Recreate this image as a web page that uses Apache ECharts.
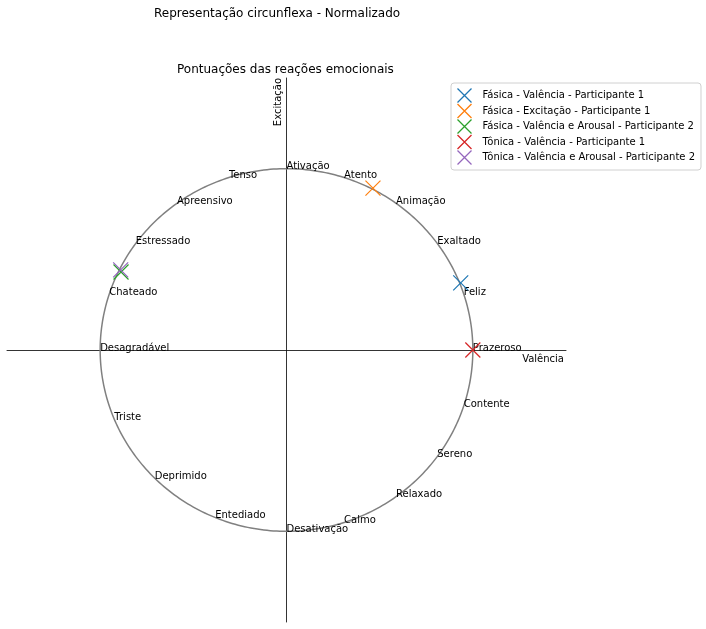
<!DOCTYPE html>
<html>
<head>
<meta charset="utf-8">
<script src="https://cdn.jsdelivr.net/npm/echarts@6/dist/echarts.min.js"></script>
<style>
  html, body { margin: 0; padding: 0; background: #fff; }
  #chart { width: 706px; height: 629px; }
</style>
</head>
<body>
<div id="chart"></div>
<script>
// ---- data ----
const labelNames = ['Prazeroso','Feliz','Exaltado','Animação','Atento','Ativação','Tenso','Apreensivo','Estressado','Chateado','Desagradável','Triste','Deprimido','Entediado','Desativação','Calmo','Relaxado','Sereno','Contente'];
const labelAngles = [0,18,36,54,72,90,108,126,144,162,180,202.5,225,247.5,270,288,306,324,342];
const circleRadius = 1;
const seriesNames = [
  'Fásica - Valência - Participante 1',
  'Fásica - Excitação - Participante 1',
  'Fásica - Valência e Arousal - Participante 2',
  'Tônica - Valência - Participante 1',
  'Tônica - Valência e Arousal - Participante 2'
];
const seriesX = [0.935, 0.464, -0.888, 1.0, -0.89];
const seriesY = [0.37, 0.893, 0.43, 0.0, 0.442];
const seriesColors = ['#1f77b4','#ff7f0e','#2ca02c','#d62728','#9467bd'];

const FONT = 'DejaVu Sans';
const CROSS = 'path://M0 0L10 10M10 0L0 10';
const chart = echarts.init(document.getElementById('chart'));

const labelData = labelNames.map((n, i) => {
  const a = labelAngles[i] * Math.PI / 180;
  return { value: [circleRadius * Math.cos(a), circleRadius * Math.sin(a)], name: n };
});

const markerSeries = seriesNames.map((n, i) => ({
  name: n,
  type: 'scatter',
  symbol: CROSS,
  symbolSize: 15,
  data: [[seriesX[i], seriesY[i]]],
  itemStyle: { color: 'none', borderColor: seriesColors[i], borderWidth: 1.2, opacity: 1 },
  emphasis: { disabled: true },
  z: 5
}));

const legendData = seriesNames.map((n, i) => ({
  name: n,
  icon: CROSS,
  itemStyle: { color: 'none', borderColor: seriesColors[i], borderWidth: 1.3, opacity: 1 }
}));

const option = {
  animation: false,
  backgroundColor: '#fff',
  textStyle: { fontFamily: FONT },
  title: [
    { text: 'Representação circunflexa - Normalizado', left: 149, top: 3,
      textStyle: { fontFamily: FONT, fontSize: 12, fontWeight: 'normal', color: '#000' } },
    { text: 'Pontuações das reações emocionais', left: 172, top: 59,
      textStyle: { fontFamily: FONT, fontSize: 12, fontWeight: 'normal', color: '#000' } }
  ],
  legend: {
    orient: 'vertical',
    left: 451, top: 83,
    data: legendData,
    itemWidth: 20, itemHeight: 14, itemGap: -3.5,
    padding: [3, 6, 3, 4],
    borderColor: '#d0d0d0', borderWidth: 1, borderRadius: 3,
    textStyle: { fontFamily: FONT, fontSize: 10, color: '#000', padding: [0, 0, 0, 3] },
    selectedMode: false
  },
  grid: { left: 7, top: 78, width: 559, height: 544, containLabel: false },
  xAxis: {
    type: 'value', min: -1.5, max: 1.5,
    axisLine: { show: true, onZero: true, lineStyle: { color: '#000', width: 0.8 } },
    axisTick: { show: false }, axisLabel: { show: false }, splitLine: { show: false },
    name: 'Valência', nameLocation: 'end', nameGap: -2,
    nameTextStyle: { fontFamily: FONT, fontSize: 10, color: '#000', align: 'right', verticalAlign: 'top', padding: [4, 0, 0, 0] }
  },
  yAxis: {
    type: 'value', min: -1.5, max: 1.5,
    axisLine: { show: true, onZero: true, lineStyle: { color: '#000', width: 0.8 } },
    axisTick: { show: false }, axisLabel: { show: false }, splitLine: { show: false },
    name: 'Excitação', nameLocation: 'end', nameGap: 0, nameRotate: 90,
    nameTextStyle: { fontFamily: FONT, fontSize: 10, color: '#000', align: 'right', verticalAlign: 'bottom', padding: [0, 0, 3, 0] }
  },
  series: [
    {
      type: 'custom',
      silent: true,
      data: [[0, 0, circleRadius]],
      renderItem: function (params, api) {
        const cx = api.value(0), cy = api.value(1), r = api.value(2);
        const pts = [];
        for (let k = 0; k <= 360; k++) {
          const a = k * Math.PI / 180;
          pts.push(api.coord([cx + r * Math.cos(a), cy + r * Math.sin(a)]));
        }
        return { type: 'polyline', shape: { points: pts }, style: { stroke: '#808080', lineWidth: 1.5, fill: null } };
      },
      z: 2
    },
    {
      type: 'scatter',
      silent: true,
      symbolSize: 0,
      data: labelData,
      itemStyle: { opacity: 1 },
      label: {
        show: true, formatter: '{b}', position: [0, 3],
        align: 'left', verticalAlign: 'bottom', opacity: 1,
        fontFamily: FONT, fontSize: 10, color: '#000'
      },
      z: 3
    }
  ].concat(markerSeries)
};
chart.setOption(option);
</script>
</body>
</html>
